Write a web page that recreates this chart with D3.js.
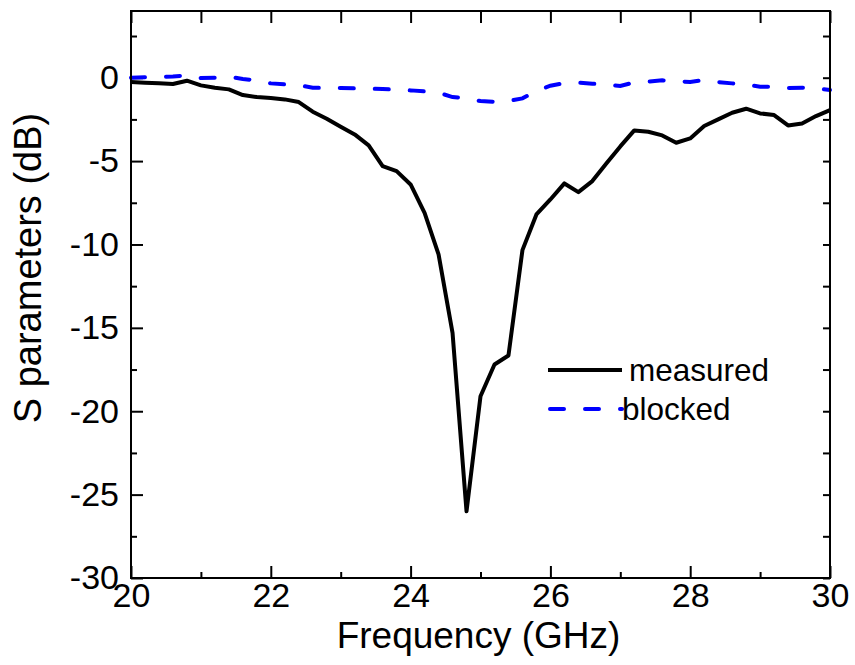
<!DOCTYPE html>
<html>
<head>
<meta charset="utf-8">
<script src="https://cdn.jsdelivr.net/npm/d3@7"></script>
<style>
  body { margin: 0; background: #fff; }
  svg { display: block; font-family: "Liberation Sans", Arial, sans-serif; }
  .tick text { fill: #000; }
</style>
</head>
<body>
<svg id="chart" width="855" height="665"></svg>
<script>
// frequency in GHz, 0.2 GHz steps
const freq = d3.range(51).map((i) => +(20 + i * 0.2).toFixed(1));

const measured = [
  -0.26, -0.30, -0.33, -0.38, -0.18, -0.46, -0.60, -0.70, -1.04, -1.16,
  -1.22, -1.30, -1.46, -2.04, -2.46, -2.94, -3.40, -4.06, -5.30, -5.60,
  -6.40, -8.10, -10.6, -15.3, -26.0, -19.1, -17.2, -16.66, -10.34, -8.2,
  -7.3, -6.34, -6.86, -6.2, -5.14, -4.12, -3.16, -3.24, -3.46, -3.90,
  -3.64, -2.90, -2.50, -2.10, -1.86, -2.14, -2.24, -2.86, -2.74, -2.30,
  -1.94
];

const blocked = [
  0.00, 0.03, 0.05, 0.07, 0.14, -0.02, 0.00, 0.06, -0.08, -0.16,
  -0.34, -0.40, -0.45, -0.60, -0.62, -0.62, -0.64, -0.66, -0.68, -0.72,
  -0.76, -0.82, -0.90, -1.16, -1.24, -1.40, -1.44, -1.40, -1.24, -0.80,
  -0.48, -0.32, -0.30, -0.36, -0.42, -0.50, -0.28, -0.24, -0.16, -0.20,
  -0.26, -0.14, -0.26, -0.34, -0.42, -0.54, -0.54, -0.62, -0.60, -0.64,
  -0.74
];

const xTicks = [20, 22, 24, 26, 28, 30];
const xMinor = [21, 23, 25, 27, 29];
const yTicks = [0, -5, -10, -15, -20, -25, -30];
const yMinor = [2.5, -2.5, -7.5, -12.5, -17.5, -22.5, -27.5];

const svg = d3.select('#chart');
const pL = 131, pR = 830, pT = 11, pB = 578;

const x = d3.scaleLinear().domain([20, 30]).range([pL, pR]);
const y = d3.scaleLinear().domain([-30, 4]).range([pB, pT]);

// plain hyphen for negatives, like the original
const plain = (d) => String(d);

// ticks first, frame on top
function addAxis(axis, tr) {
  const g = svg.append('g').attr('transform', tr).call(axis);
  g.select('.domain').remove();
  g.selectAll('.tick line').attr('stroke', '#000').attr('stroke-width', 2);
  return g;
}

// bottom
addAxis(d3.axisBottom(x).tickValues(xTicks).tickSize(-12)
  .tickFormat(plain), `translate(0,${pB})`)
  .selectAll('.tick text').attr('y', 5).attr('dy', '0.71em')
  .style('font-size', '34px');
addAxis(d3.axisBottom(x).tickValues(xMinor).tickSize(-6).tickFormat(''),
  `translate(0,${pB})`);
// top
addAxis(d3.axisTop(x).tickValues(xTicks.concat(xMinor)).tickSize(-12).tickFormat(''),
  `translate(0,${pT})`);
// left
addAxis(d3.axisLeft(y).tickValues(yTicks).tickSize(-12)
  .tickFormat(plain), `translate(${pL},0)`)
  .selectAll('.tick text').attr('x', -12)
  .style('font-size', '34px');
addAxis(d3.axisLeft(y).tickValues(yMinor).tickSize(-6).tickFormat(''),
  `translate(${pL},0)`);
// right
addAxis(d3.axisRight(y).tickValues(yTicks.concat(yMinor)).tickSize(-7).tickFormat(''),
  `translate(${pR},0)`);

// lines
const line = (vals) => d3.line()
  .x((d, i) => x(freq[i]))
  .y((d) => y(d))(vals);

const plot = svg.append('g');

plot.append('path')
  .attr('d', line(blocked))
  .attr('fill', 'none')
  .attr('stroke', '#0000ff')
  .attr('stroke-width', 4)
  .attr('stroke-linecap', 'round')
  .attr('stroke-dasharray', '14,21');

plot.append('path')
  .attr('d', line(measured))
  .attr('fill', 'none')
  .attr('stroke', '#000')
  .attr('stroke-width', 4)
  .attr('stroke-linejoin', 'round');

// frame
svg.append('rect')
  .attr('x', pL).attr('y', pT)
  .attr('width', pR - pL).attr('height', pB - pT)
  .attr('fill', 'none').attr('stroke', '#000').attr('stroke-width', 2);

// legend
const legend = svg.append('g');
legend.append('line')
  .attr('x1', 548).attr('x2', 622).attr('y1', 370).attr('y2', 370)
  .attr('stroke', '#000').attr('stroke-width', 4);
legend.append('text').attr('x', 629).attr('y', 381)
  .style('font-size', '31.5px').text('measured');
legend.append('line')
  .attr('x1', 550).attr('x2', 622).attr('y1', 409).attr('y2', 409)
  .attr('stroke', '#0000ff').attr('stroke-width', 4)
  .attr('stroke-linecap', 'round').attr('stroke-dasharray', '14,21');
legend.append('text').attr('x', 622).attr('y', 420)
  .style('font-size', '31.5px').text('blocked');

// axis titles
svg.append('text')
  .attr('x', (pL + pR) / 2 - 2).attr('y', 648)
  .attr('text-anchor', 'middle')
  .style('font-size', '37px')
  .text('Frequency (GHz)');

svg.append('text')
  .attr('transform', `translate(41,268) rotate(-90)`)
  .attr('text-anchor', 'middle')
  .style('font-size', '38px')
  .text('S parameters (dB)');
</script>
</body>
</html>
